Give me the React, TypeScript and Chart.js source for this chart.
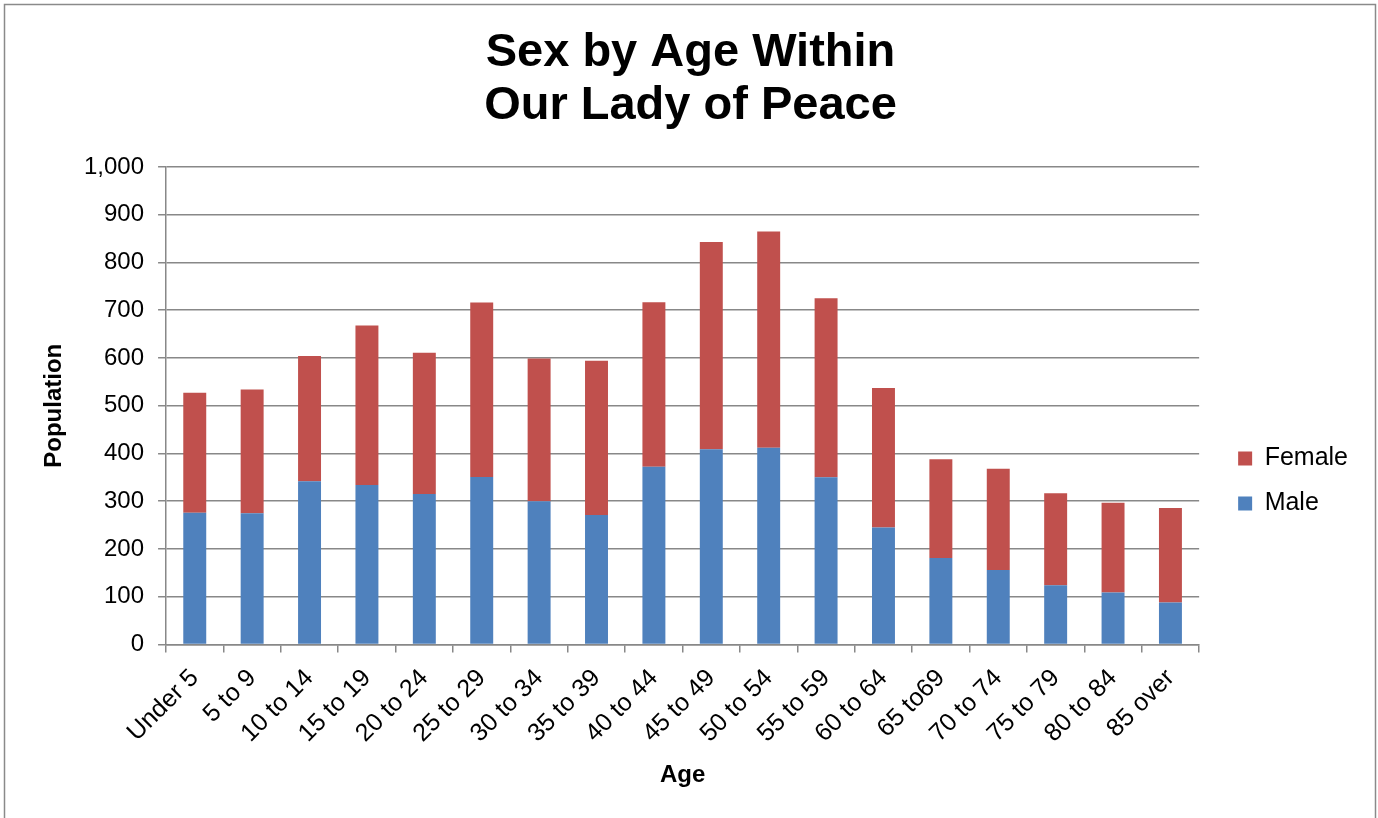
import React, { useEffect, useRef } from "react";
import { Chart, registerables } from "chart.js";

Chart.register(...registerables);

const titleLines = ["Sex by Age Within", "Our Lady of Peace"];
const categories = [
  "Under 5", "5 to 9", "10 to 14", "15 to 19", "20 to 24", "25 to 29",
  "30 to 34", "35 to 39", "40 to 44", "45 to 49", "50 to 54", "55 to 59",
  "60 to 64", "65 to69", "70 to 74", "75 to 79", "80 to 84", "85 over",
];
const maleValues = [276, 275, 342, 334, 315, 351, 300, 271, 372, 409, 412, 350, 245, 181, 156, 124, 109, 88];
const femaleValues = [251, 259, 262, 334, 296, 365, 299, 323, 345, 434, 453, 375, 292, 207, 212, 193, 188, 198];
const yMin = 0;
const yMax = 1000;
const yStep = 100;
const xTitle = "Age";
const yTitle = "Population";

const FONT = '"Liberation Sans", Arial, Helvetica, sans-serif';
const GRID = "#888888";

const framePlugin = {
  id: "frame",
  afterDraw(chart: any) {
    const ctx = chart.ctx;
    ctx.save();
    ctx.strokeStyle = "#8a8a8a";
    ctx.lineWidth = 1.5;
    ctx.strokeRect(4.5, 4.5, 1371, 840);
    ctx.restore();
  },
};

const shiftPlugin = {
  id: "boxShift",
  afterLayout(chart: any) {
    const lg = chart.legend;
    if (lg) {
      const dx = 19;
      const dy = 72;
      lg.left += dx;
      lg.right += dx;
      lg.top += dy;
      lg.bottom += dy;
    }
    const tb = chart.titleBlock;
    if (tb) {
      const tdx = 21;
      tb.left += tdx;
      tb.right += tdx;
    }
  },
};

export default function App() {
  const canvasRef = useRef<HTMLCanvasElement | null>(null);

  useEffect(() => {
    if (!canvasRef.current) return;
    const chart = new Chart(canvasRef.current, {
      type: "bar",
      data: {
        labels: categories,
        datasets: [
          {
            label: "Male",
            data: maleValues,
            backgroundColor: "#4F81BD",
            barPercentage: 0.4,
            categoryPercentage: 1.0,
          },
          {
            label: "Female",
            data: femaleValues,
            backgroundColor: "#C0504D",
            barPercentage: 0.4,
            categoryPercentage: 1.0,
          },
        ],
      },
      options: {
        responsive: false,
        animation: false,
        devicePixelRatio: 1,
        layout: { padding: { top: 0, left: 0, right: 39, bottom: 0 } },
        plugins: {
          title: {
            display: true,
            text: titleLines,
            color: "#000",
            font: { family: FONT, size: 47, weight: "bold", lineHeight: 53 / 47 },
            padding: { top: 27, bottom: 34 },
          },
          legend: {
            position: "right",
            reverse: true,
            labels: {
              boxWidth: 14,
              boxHeight: 14,
              padding: 20,
              color: "#000",
              font: { family: FONT, size: 25 },
            },
          },
          tooltip: { enabled: false },
        },
        scales: {
          x: {
            stacked: true,
            offset: true,
            grid: {
              display: true,
              drawOnChartArea: false,
              drawTicks: true,
              tickLength: 8,
              color: GRID,
              lineWidth: 1.5,
              offset: true,
            },
            border: { display: true, color: GRID, width: 1.5 },
            ticks: {
              autoSkip: false,
              minRotation: 45,
              maxRotation: 45,
              padding: 11,
              color: "#000",
              font: { family: FONT, size: 25 },
            },
            title: {
              display: true,
              text: xTitle,
              color: "#000",
              font: { family: FONT, size: 24, weight: "bold" },
              padding: { top: 1, bottom: 28.6 },
            },
          },
          y: {
            stacked: true,
            min: yMin,
            max: yMax,
            ticks: {
              stepSize: yStep,
              padding: 14,
              color: "#000",
              font: { family: FONT, size: 24 },
            },
            grid: {
              color: GRID,
              lineWidth: 1.5,
              drawTicks: true,
              tickLength: 8,
            },
            border: { display: true, color: GRID, width: 1.5 },
            title: {
              display: true,
              text: yTitle,
              color: "#000",
              font: { family: FONT, size: 24, weight: "bold" },
              padding: { top: 39.6, bottom: 1.6 },
            },
          },
        },
      },
      plugins: [framePlugin, shiftPlugin],
    } as any);
    return () => chart.destroy();
  }, []);

  return (
    <div style={{ position: "absolute", left: 0, top: 0, width: 1378, height: 818, background: "#fff" }}>
      <canvas ref={canvasRef} width={1378} height={818} style={{ display: "block" }} />
    </div>
  );
}
